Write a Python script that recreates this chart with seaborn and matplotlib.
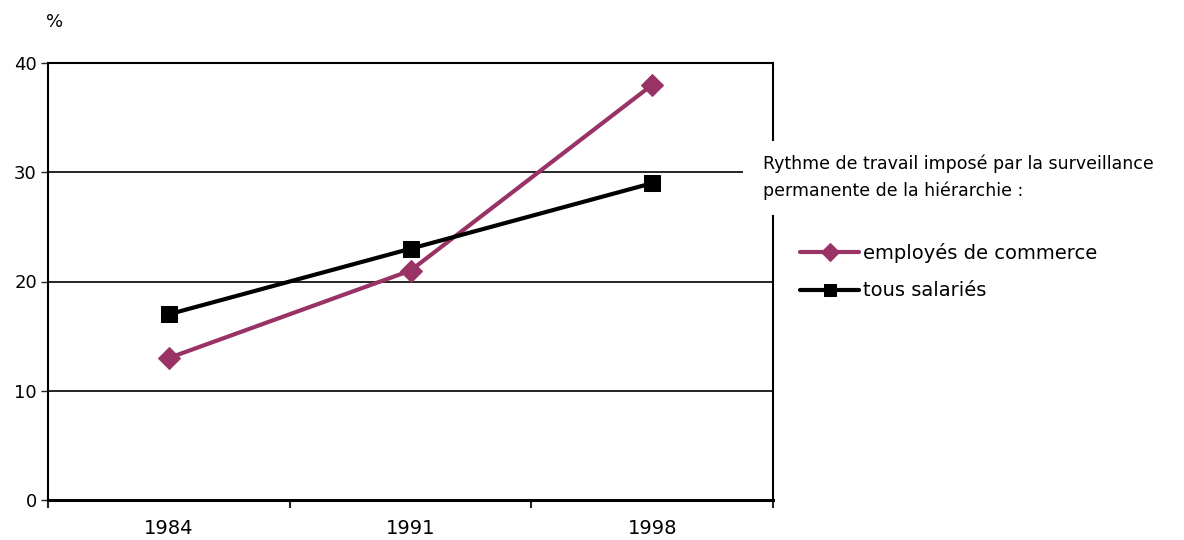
import matplotlib
matplotlib.use('Agg')
import matplotlib.pyplot as plt
from matplotlib.patches import Rectangle
import seaborn as sns
import pandas as pd

#Data
years = ['1984', '1991', '1998']
employes_commerce = [13, 21, 38]
tous_salaries = [17, 23, 29]
series_names = ['employés de commerce', 'tous salariés']
series_colors = ['#993366', '#000000']
series_markers = ['D', 's']

df = pd.concat([
    pd.DataFrame({'annee': years, 'valeur': employes_commerce, 'serie': series_names[0]}),
    pd.DataFrame({'annee': years, 'valeur': tous_salaries, 'serie': series_names[1]}),
])

sns.set_style('white')
plt.rcParams['font.family'] = ['DejaVu Sans']
plt.rcParams['text.color'] = 'black'

fig = plt.figure(figsize=(11.84, 5.4), dpi=100)
ax = fig.add_axes([48/1184, 40/540, (773-48)/1184, (500-63)/540])

for name, col, mk in zip(series_names, series_colors, series_markers):
    sns.lineplot(data=df[df['serie'] == name], x='annee', y='valeur', ax=ax,
                 color=col, marker=mk, markersize=11,
                 markeredgecolor=col, linewidth=3, label=name, zorder=3)

ax.set_xlim(-0.5, 2.5)
ax.set_ylim(0, 40)
ax.set_yticks([0, 10, 20, 30, 40])
ax.tick_params(axis='y', labelsize=13, length=5, width=1, direction='out', left=True, pad=3,
               labelcolor='black')
ax.set_xticks([-0.5, 0.5, 1.5, 2.5])
ax.set_xticklabels([])
ax.set_xticks([0, 1, 2], minor=True)
ax.set_xticklabels(years, minor=True)
ax.tick_params(axis='x', which='major', length=6, width=1.5, direction='out', bottom=True)
ax.tick_params(axis='x', which='minor', length=0, labelsize=14, pad=14, labelcolor='black')
ax.set_xlabel('')
ax.set_ylabel('')

for y in [10, 20, 30]:
    ax.axhline(y, color='black', linewidth=1.2, zorder=1)

for s in ['top', 'right', 'left']:
    ax.spines[s].set_color('black')
    ax.spines[s].set_linewidth(1.5)
ax.spines['bottom'].set_color('black')
ax.spines['bottom'].set_linewidth(2.2)

fig.text(46/1184, 1 - 22/540, '%', fontsize=13, va='center', ha='left', color='black')

#White box hiding the right side of the frame behind the legend title
fig.add_artist(Rectangle((743/1184, 1 - 215/540), 441/1184, 74/540,
                         transform=fig.transFigure, facecolor='white',
                         edgecolor='none', zorder=5))
fig.text(763/1184, 1 - 177/540, 'Rythme de travail imposé par la surveillance\npermanente de la hiérarchie :',
         fontsize=12.5, va='center', ha='left', linespacing=1.6, zorder=6, color='black')

leg = ax.legend(loc='upper left', bbox_to_anchor=(800/1184, 1 - 243/540),
                bbox_transform=fig.transFigure, frameon=False, fontsize=14,
                handlelength=3.05, handletextpad=0.2, labelspacing=0.95,
                borderaxespad=0, borderpad=0)
for h in leg.legend_handles:
    h.set_markersize(9)
for t in leg.get_texts():
    t.set_color('black')

plt.savefig('out.png', dpi=100)
